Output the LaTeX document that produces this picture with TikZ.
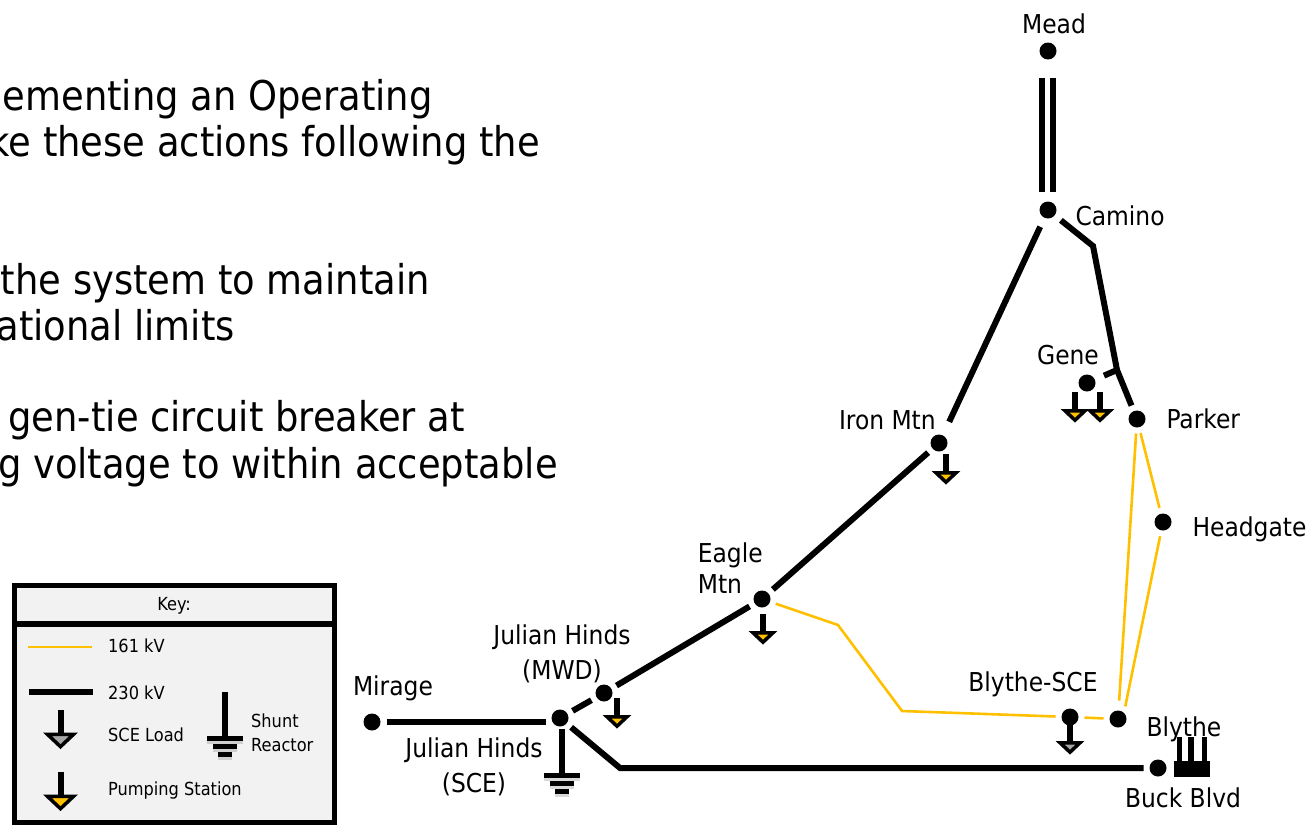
\documentclass[tikz,border=0pt]{standalone}
\usepackage{fontspec}
\setmainfont{DejaVu Sans Condensed}
\usetikzlibrary{positioning,shadows}
\definecolor{yel}{HTML}{FFC000}
\definecolor{loadgray}{HTML}{A6A6A6}
\definecolor{keyfill}{HTML}{F2F2F2}

\begin{document}
\begin{tikzpicture}[x=1pt,y=-1pt,
 bus/.style={circle,fill=black,minimum size=17pt,inner sep=0pt,outer sep=6pt},
 kv230/.style={line width=6pt},
 kv161/.style={line width=2.6pt,yel},
 lbl/.style={font=\fontsize{26}{35}\selectfont,align=center,inner sep=0pt,outer sep=0pt},
 keytxt/.style={font=\fontsize{18}{24}\selectfont,align=left,inner sep=0pt,anchor=west},
 body/.style={font=\fontsize{41}{44}\selectfont,inner sep=0pt,anchor=base east},
 bar/.style={fill=black,minimum height=5pt,inner sep=0pt,outer sep=0pt,drop shadow={shadow xshift=0pt,shadow yshift=-3pt,opacity=.3}},
 loadsym/.pic={\draw[line width=6pt] (0,0)--(0,18);
  \draw[line width=3.5pt,miter limit=10,fill=#1] (-10,18.75)--(10,18.75)--(0,28.2)--cycle;},
 shuntsym/.pic={\draw[line width=6pt] (0,0)--(0,45);
  \node[bar,minimum width=36pt] at (0,46) {};
  \node[bar,minimum width=24pt] at (0,54) {};
  \node[bar,minimum width=14pt] at (0,62) {};}]
 \useasboundingbox (0,0) rectangle (1307,825);
 \node[body] (txta) at (433,110) {ementing an Operating};
 \node[body] (txtb) at (540,156) {ke these actions following the};
 \node[body] (txtc) at (430,294) {the system to maintain};
 \node[body] (txtd) at (235,340) {ational limits};
 \node[body] (txte) at (465,431) {gen-tie circuit breaker at};
 \node[body] (txtf) at (558,478) {g voltage to within acceptable};
 % key
 \node[draw,line width=5pt,fill=keyfill,minimum width=320pt,minimum height=236.7pt,inner sep=0pt,outer sep=0pt,anchor=north west] (key) at (14.2,585.8) {};
 \coordinate (keydiv) at (14.2,624);
 \draw[line width=5.5pt] (keydiv)--(keydiv-|key.east);
 \node[font=\fontsize{18}{24}\selectfont,inner sep=0pt] (keytitle) at (174,606) {Key:};
 \node[keytxt] (k161) at (108,646) {161 kV};
 \node[keytxt] (k230) at (108,693) {230 kV};
 \node[keytxt] (kload) at (108,735) {SCE Load};
 \node[keytxt] (kpump) at (108,791) {Pumping Station};
 \node[keytxt] (kshunt) at (251,733) {Shunt\\Reactor};
 \coordinate (k161a) at (28,647);
 \coordinate (k230a) at (29,692);
 \draw[kv161] (k161a)--++(64,0);
 \draw[kv230] (k230a)--++(64,0);
 \path (60.5,710) pic[scale=1.3] {loadsym=loadgray};
 \path (60.5,772) pic[scale=1.3] {loadsym=yel};
 \path (225,692) pic {shuntsym};
 % buses
 \node[bus] (mead) at (1048,51) {};
 \node[bus] (camino) at (1048,210) {};
 \node[bus] (ironmtn) at (939,443) {};
 \node[bus] (eagle) at (762,599) {};
 \node[bus] (jhmwd) at (604,693) {};
 \node[bus] (jhsce) at (560,718) {};
 \node[bus] (mirage) at (372,722) {};
 \node[bus] (buck) at (1158,768) {};
 \node[bus] (gene) at (1087,383) {};
 \node[bus] (parker) at (1137,419) {};
 \node[bus] (headgate) at (1163,522) {};
 \node[bus] (blythe) at (1118,719) {};
 \node[bus] (blythesce) at (1070,717) {};
 % labels
 \node[lbl,above=3pt of mead,xshift=6pt] (meadlbl) {Mead};
 \node[lbl,right=13pt of camino,yshift=-6pt] (caminolbl) {Camino};
 \node[lbl,above=4pt of gene,xshift=-19pt] (genelbl) {Gene};
 \node[lbl,above left=3pt and -7pt of ironmtn] (ironlbl) {Iron Mtn};
 \node[lbl,right=15pt of parker] (parkerlbl) {Parker};
 \node[lbl,right=15pt of headgate,yshift=-7pt] (headgatelbl) {Headgate};
 \node[lbl,align=left,above left=-5pt and -11pt of eagle] (eaglelbl) {Eagle\\[-4pt]Mtn};
 \node[lbl,above=-4pt of jhmwd,xshift=-42pt] (jhmwdlbl) {Julian Hinds\\(MWD)};
 \node[lbl,above=7pt of mirage,xshift=21pt] (miragelbl) {Mirage};
 \node[lbl,below=5pt of jhsce,xshift=-86pt] (jhscelbl) {Julian Hinds\\(SCE)};
 \node[lbl,above=6pt of blythesce,xshift=-37pt] (blythescelbl) {Blythe-SCE};
 \node[lbl,right=14pt of blythe,yshift=-10pt] (blythelbl) {Blythe};
 \node[lbl,below=5pt of buck,xshift=25pt] (bucklbl) {Buck Blvd};
 % 230 kV
 \coordinate (bendcam) at (1093,246);
 \coordinate (bendgene) at (1117,370);
 \coordinate (bendbuck) at (620,768);
 \draw[kv230,shorten <=12pt,shorten >=4pt] ([xshift=-6pt]mead.south)--([xshift=-6pt]camino.north);
 \draw[kv230,shorten <=12pt,shorten >=4pt] ([xshift=5pt]mead.south)--([xshift=5pt]camino.north);
 \draw[kv230,shorten <=4pt,shorten >=9pt] ([xshift=5pt]camino)--(ironmtn);
 \draw[kv230,shorten <=2pt] ([yshift=-7pt]camino)--(bendcam)--(bendgene)--(parker);
 \draw[kv230,shorten <=4pt] (gene)--(bendgene);
 \draw[kv230] (ironmtn)--(eagle);
 \draw[kv230] (eagle)--([xshift=3pt]jhmwd);
 \draw[kv230] (jhmwd)--(jhsce);
 \draw[kv230] (mirage)--(mirage-|jhsce.west);
 \draw[kv230] (jhsce)--(bendbuck)--(buck);
 % 161 kV
 \coordinate (yela) at (838,625);
 \coordinate (yelb) at (902,711);
 \draw[kv161] (eagle)--(yela)--(yelb)--(blythesce);
 \draw[kv161] (blythesce)--(blythe);
 \draw[kv161,shorten >=4pt] (parker)--(blythe);
 \draw[kv161] (parker)--(headgate);
 \draw[kv161] (headgate)--(blythe.60);
 % loads
 \path (617,698) pic {loadsym=yel};
 \path (946,454) pic {loadsym=yel};
 \path (763,614) pic {loadsym=yel};
 \path (1075,392) pic {loadsym=yel};
 \path (1100,392) pic {loadsym=yel};
 \path (1070,724) pic {loadsym=loadgray};
 \path (562,729) pic {shuntsym};
 % plant at Buck Blvd
 \fill (1174,761) rectangle (1210,777);
 \fill (1177,737) rectangle (1182,761);
 \fill (1188,737) rectangle (1194,761);
 \fill (1202,737) rectangle (1207,761);
\end{tikzpicture}
\end{document}
